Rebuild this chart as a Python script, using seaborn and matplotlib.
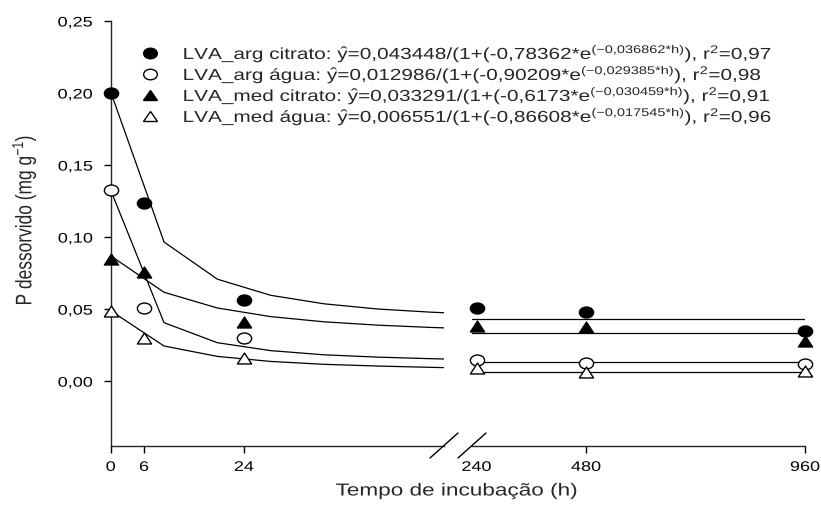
import matplotlib
matplotlib.use("Agg")
import matplotlib.pyplot as plt
from matplotlib.lines import Line2D
from matplotlib.markers import MarkerStyle
from matplotlib.patheffects import AbstractPathEffect
from matplotlib.ticker import FixedLocator, FuncFormatter
from matplotlib.transforms import Affine2D
import seaborn as sns

# -----------------------------
# Data
# -----------------------------
hours = [0, 6, 24, 240, 480, 960]
arg_citrato = [0.200, 0.124, 0.056, 0.051, 0.048, 0.035]
arg_agua = [0.133, 0.051, 0.030, 0.0146, 0.0125, 0.012]
med_citrato = [0.085, 0.076, 0.041, 0.038, 0.0375, 0.028]
med_agua = [0.049, 0.030, 0.016, 0.009, 0.0063, 0.007]

# fitted curves, first part of the axis
curve_h = [0, 9.6, 19.2, 28.8, 38.4, 48, 57.6, 60]
fit_arg_citrato = [0.2008, 0.0966, 0.0708, 0.0596, 0.0537, 0.0501, 0.0479, 0.0475]
fit_arg_agua = [0.1326, 0.0406, 0.0267, 0.0212, 0.0183, 0.0167, 0.0156, 0.0154]
fit_med_citrato = [0.0870, 0.0617, 0.0508, 0.0448, 0.0412, 0.0389, 0.0373, 0.0370]
fit_med_agua = [0.0489, 0.0244, 0.0172, 0.0137, 0.0117, 0.0105, 0.0096, 0.0094]

# fitted curves, second part of the axis (flat)
tail_h = [230, 960]
tail_arg_citrato = [0.0434, 0.0434]
tail_arg_agua = [0.0130, 0.0130]
tail_med_citrato = [0.0333, 0.0333]
tail_med_agua = [0.00655, 0.00655]

labels = [
    r"LVA_arg citrato: $\hat{y}$=0,043448/(1+(-0,78362*e$^{(-0{,}036862{*}h)}$), r$^{2}$=0,97",
    r"LVA_arg água: $\hat{y}$=0,012986/(1+(-0,90209*e$^{(-0{,}029385{*}h)}$), r$^{2}$=0,98",
    r"LVA_med citrato: $\hat{y}$=0,033291/(1+(-0,6173*e$^{(-0{,}030459{*}h)}$), r$^{2}$=0,91",
    r"LVA_med água: $\hat{y}$=0,006551/(1+(-0,86608*e$^{(-0{,}017545{*}h)}$), r$^{2}$=0,96",
]

series = [
    (arg_citrato, fit_arg_citrato, tail_arg_citrato, "o", "black"),
    (arg_agua, fit_arg_agua, tail_arg_agua, "o", "white"),
    (med_citrato, fit_med_citrato, tail_med_citrato, "^", "black"),
    (med_agua, fit_med_agua, tail_med_agua, "^", "white"),
]

# -----------------------------
# Style
# -----------------------------
sns.set_style("ticks")
plt.rcParams["font.family"] = ["Liberation Sans", "DejaVu Sans"]
plt.rcParams["mathtext.fontset"] = "custom"
plt.rcParams["mathtext.rm"] = "Liberation Sans"
plt.rcParams["mathtext.it"] = "Liberation Sans:italic"
plt.rcParams["mathtext.default"] = "regular"
plt.rcParams["axes.linewidth"] = 1.0

# the original text is drawn wide, so glyphs get stretched sideways
WIDE = 1.3


class Stretch(AbstractPathEffect):
    def __init__(self, sx=1.0, sy=1.0, anchor="center"):
        super().__init__()
        self.sx, self.sy, self.anchor = sx, sy, anchor

    def draw_path(self, renderer, gc, tpath, affine, rgbFace=None):
        if len(tpath.vertices) == 0:
            renderer.draw_path(gc, tpath, affine, rgbFace)
            return
        ext = tpath.get_extents()
        if self.anchor == "left":
            cx = ext.x0
        elif self.anchor == "right":
            cx = ext.x1
        else:
            cx = (ext.x0 + ext.x1) / 2
        cy = (ext.y0 + ext.y1) / 2
        st = Affine2D().translate(-cx, -cy).scale(self.sx, self.sy).translate(cx, cy)
        renderer.draw_path(gc, tpath, st + affine, rgbFace)


def wide_marker(m):
    return MarkerStyle(m, transform=Affine2D().scale(WIDE, 1.0))


fig = plt.figure(figsize=(8.21, 5.16), dpi=100)
ax1 = fig.add_axes([110.7 / 821, 70 / 516, (444 - 110.7) / 821, 425 / 516])
ax2 = fig.add_axes([472 / 821, 70 / 516, (805 - 472) / 821, 425 / 516], sharey=ax1)

left_h = [h for h in hours if h <= 60]
right_h = [h for h in hours if h >= 230]

for pts, fit, tail, mk, fc in series:
    sns.lineplot(x=curve_h, y=fit, ax=ax1, color="black", linewidth=0.9)
    sns.lineplot(x=tail_h, y=tail, ax=ax2, color="black", linewidth=0.9)
    sns.scatterplot(x=left_h, y=pts[:len(left_h)], ax=ax1,
                    marker=wide_marker(mk), color=fc, edgecolor="black",
                    linewidth=1.0, s=62, clip_on=False, zorder=5)
    sns.scatterplot(x=right_h, y=pts[len(left_h):], ax=ax2,
                    marker=wide_marker(mk), color=fc, edgecolor="black",
                    linewidth=1.0, s=62, clip_on=False, zorder=5)

ax1.set_xlim(0, 60)
ax2.set_xlim(230, 960)
ax1.set_ylim(-0.045, 0.25)

ax1.yaxis.set_major_locator(FixedLocator([0, 0.05, 0.10, 0.15, 0.20, 0.25]))
ax1.yaxis.set_major_formatter(
    FuncFormatter(lambda v, p: f"{v:.2f}".replace(".", ","))
)
ax1.xaxis.set_major_locator(FixedLocator([0, 6, 24]))
ax2.xaxis.set_major_locator(FixedLocator([240, 480, 960]))
for ax in (ax1, ax2):
    ax.xaxis.set_major_formatter(FuncFormatter(lambda v, p: f"{v:.0f}"))
    ax.tick_params(axis="x", direction="out", length=5, width=1,
                   labelsize=10, colors="black", pad=5)
    ax.tick_params(axis="y", direction="out", length=5, width=1,
                   labelsize=10, colors="black", pad=8)
    ax.spines["top"].set_visible(False)
    ax.spines["right"].set_visible(False)
    ax.set_xlabel("")
    ax.set_ylabel("")
    ax.set_facecolor("none")

ax2.spines["left"].set_visible(False)
ax2.tick_params(axis="y", left=False, labelleft=False)
ax2.xaxis.get_major_ticks()[0].tick1line.set_visible(False)

for t in ax1.get_yticklabels():
    t.set_path_effects([Stretch(WIDE, 1.0, "right")])
for ax in (ax1, ax2):
    for t in ax.get_xticklabels():
        t.set_path_effects([Stretch(WIDE, 1.0, "center")])

# break marks on the x axis
for x0 in (430, 458):
    fig.add_artist(Line2D([x0 / 821, (x0 + 28) / 821],
                          [1 - 458 / 516, 1 - 433 / 516],
                          transform=fig.transFigure, color="black", lw=1.0))

# legend, drawn row by row
row_base = [59, 80, 101, 122]
for (pts, fit, tail, mk, fc), lab, yb in zip(series, labels, row_base):
    fig.add_artist(Line2D([150 / 821], [1 - (yb - 6) / 516],
                          transform=fig.transFigure, linestyle="none",
                          marker=wide_marker(mk), markersize=7.6,
                          markerfacecolor=fc, markeredgecolor="black",
                          markeredgewidth=1.0))
    t = fig.text(183 / 821, 1 - yb / 516, lab, ha="left", va="baseline",
                 fontsize=11.5)
    t.set_path_effects([Stretch(WIDE, 1.0, "left")])

ylab = fig.text(24 / 821, 1 - 220 / 516, "P dessorvido (mg g$^{-1}$)",
                rotation=90, ha="center", va="center", fontsize=12.5)
ylab.set_path_effects([Stretch(1.0, WIDE, "center")])
xlab = fig.text(457 / 821, 1 - 491 / 516, "Tempo de incubação (h)",
                ha="center", va="center", fontsize=12.5)
xlab.set_path_effects([Stretch(WIDE, 1.0, "center")])

fig.savefig("out.png", dpi=100)
